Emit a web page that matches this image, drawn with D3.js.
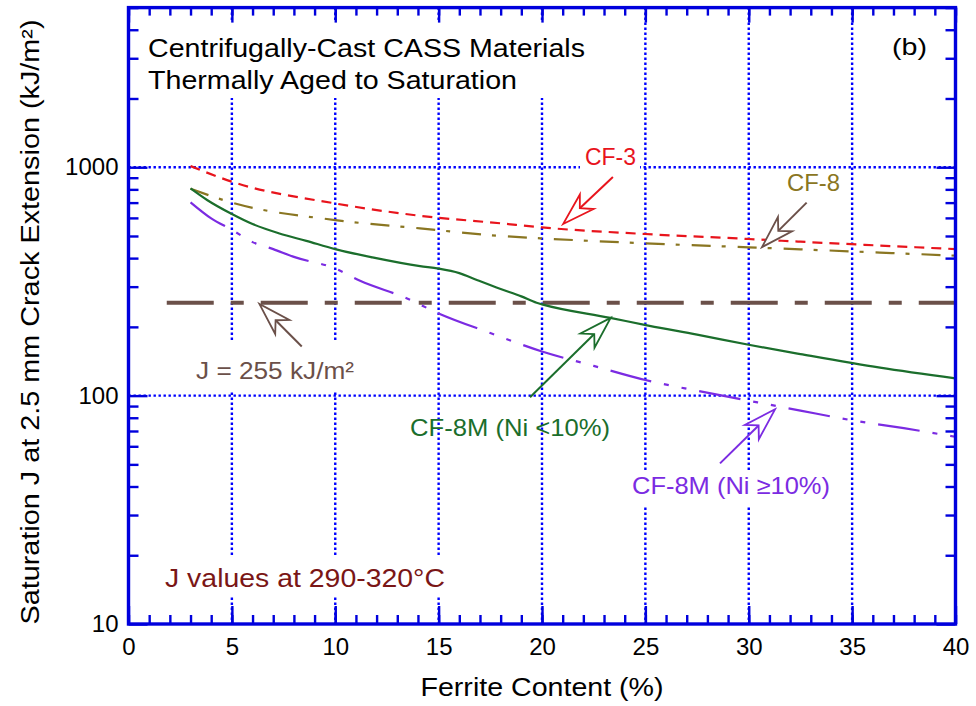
<!DOCTYPE html>
<html><head><meta charset="utf-8">
<script src="https://cdn.jsdelivr.net/npm/d3@7"></script>
<style>
body{margin:0;background:#fff}
svg{display:block}
text{font-family:"Liberation Sans",Arial,Helvetica,sans-serif}
</style>
</head><body><svg id="c" width="976" height="706"></svg>
<script>
// ---------- data ----------
const cf3X = [3, 5, 10, 14.1, 18, 20, 25, 30, 32.5, 36.35, 40];
const cf3Y = [1012, 864, 694, 613, 568, 545, 510, 485, 472, 454, 438];
const cf8X = [3, 5, 10, 14.1, 18, 20, 25, 30, 32.5, 36.35, 40];
const cf8Y = [805, 700, 587, 540, 500, 488, 464, 446, 437, 423, 410];
const cf8mLowX = [3, 3.8, 5, 6, 7.3, 8.6, 10, 11.8, 14.1, 15, 16, 16.85, 18, 19, 19.74, 20, 23.3, 25.2, 27.5, 30, 32.5, 36.35, 40];
const cf8mLowY = [808, 719, 624, 564, 513, 476, 438, 403, 369, 360, 344, 321, 293, 272, 255, 251, 219, 202, 185, 167, 152, 132.5, 119];
const cf8mHighX = [3, 4, 5, 6, 7, 8, 10, 11.2, 13.45, 15, 17.5, 20, 22.5, 25, 27.5, 30, 32.5, 35, 37.5, 40];
const cf8mHighY = [702, 597, 532, 470, 438, 405, 360, 318, 267, 229, 188, 156, 135, 117, 105, 95, 86, 78, 72, 66];
const jLimitX = [1.85, 40];
const jLimitY = [255, 255];
const xTickValues = [0, 5, 10, 15, 20, 25, 30, 35, 40];
const yTickValues = [10, 100, 1000];
const xGridValues = [5, 10, 15, 20, 25, 30, 35];
const yGridValues = [100, 1000];

// ---------- layout ----------
const svg = d3.select("#c");
const x = d3.scaleLinear().domain([0, 40]).range([128.5, 955.5]);
const y = d3.scaleLog().domain([10, 5000]).range([624, 7.6]);
const [X0, X1] = x.range(); const [Y0, Y1] = y.range();
const AXC = "#0000dd", GRIDC = "#0000ff";

function fit(sel, w) {
  sel.attr("textLength", w).attr("lengthAdjust", "spacingAndGlyphs");
  return sel;
}

// grid
const grid = svg.append("g");
grid.selectAll("line.v").data(xGridValues).join("line")
  .attr("x1", d => x(d)).attr("x2", d => x(d)).attr("y1", Y1).attr("y2", Y0)
  .attr("stroke", GRIDC).attr("stroke-width", 2.4).attr("stroke-dasharray", "2.4,2.6");
grid.selectAll("line.h").data(yGridValues).join("line")
  .attr("y1", d => y(d)).attr("y2", d => y(d)).attr("x1", X0).attr("x2", X1)
  .attr("stroke", GRIDC).attr("stroke-width", 2.4).attr("stroke-dasharray", "2.4,2.6");

// white boxes behind labels
const boxes = [[140, 20, 452, 78], [188, 342, 174, 49], [158, 557, 294, 40], [580, 143, 60, 30], [625, 470, 213, 35]];
svg.append("g").selectAll("rect").data(boxes).join("rect")
  .attr("x", d => d[0]).attr("y", d => d[1]).attr("width", d => d[2]).attr("height", d => d[3])
  .attr("fill", "#fff");

// series
const clip = svg.append("clipPath").attr("id", "pc").append("rect")
  .attr("x", X0).attr("y", Y1).attr("width", X1 - X0).attr("height", Y0 - Y1);
const line = d3.line().x(d => x(d[0])).y(d => y(d[1])).curve(d3.curveMonotoneX);
const series = [
  {xs: jLimitX, ys: jLimitY, color: "#6b5049", w: 4.2, dash: "47,17,13,17", curve: d3.curveLinear},
  {xs: cf3X, ys: cf3Y, color: "#e8141c", w: 2.2, dash: "10,7"},
  {xs: cf8X, ys: cf8Y, color: "#8a7622", w: 2.2, dash: "19,11,4,12"},
  {xs: cf8mHighX, ys: cf8mHighY, color: "#7b2be2", w: 2.2, dash: "42,13,5,13,5,13"},
  {xs: cf8mLowX, ys: cf8mLowY, color: "#1b6e2c", w: 2.2, dash: null}
];
const sg = svg.append("g").attr("clip-path", "url(#pc)");
series.forEach(s => {
  const pts = s.xs.map((v, i) => [v, s.ys[i]]);
  const gen = s.curve ? d3.line().x(d => x(d[0])).y(d => y(d[1])).curve(s.curve) : line;
  sg.append("path").attr("d", gen(pts)).attr("fill", "none")
    .attr("stroke", s.color).attr("stroke-width", s.w)
    .attr("stroke-dasharray", s.dash);
});

// arrows (tail -> tip, in data units)
const arrows = [
  {tail: [23.43, 906], tip: [21.02, 564], color: "#e8141c"},
  {tail: [32.8, 700], tip: [30.64, 447], color: "#6b5049"},
  {tail: [8.38, 164], tip: [6.33, 252], color: "#6b5049"},
  {tail: [19.42, 98.3], tip: [23.32, 219], color: "#1b6e2c"},
  {tail: [28.61, 50.5], tip: [31.27, 87.1], color: "#7b2be2"}
];
const ag = svg.append("g");
arrows.forEach(a => {
  const tx = x(a.tip[0]), ty = y(a.tip[1]);
  const sx = x(a.tail[0]), sy = y(a.tail[1]);
  const len = Math.hypot(sx - tx, sy - ty);
  const ux = (sx - tx) / len, uy = (sy - ty) / len;
  const px = -uy, py = ux;
  const L = 32.5, Wd = 10, N = 23;
  const c1 = [tx + ux * L + px * Wd, ty + uy * L + py * Wd];
  const c2 = [tx + ux * L - px * Wd, ty + uy * L - py * Wd];
  const nt = [tx + ux * N, ty + uy * N];
  ag.append("line").attr("x1", sx).attr("y1", sy).attr("x2", nt[0]).attr("y2", nt[1])
    .attr("stroke", a.color).attr("stroke-width", 2);
  ag.append("path").attr("d", `M${tx},${ty}L${c1[0]},${c1[1]}L${nt[0]},${nt[1]}L${c2[0]},${c2[1]}Z`)
    .attr("fill", "#fff").attr("stroke", a.color).attr("stroke-width", 1.8).attr("stroke-linejoin", "miter");
});

// labels
const lg = svg.append("g");
fit(lg.append("text").attr("x", 148).attr("y", 56.5).attr("font-size", 25).text("Centrifugally-Cast CASS Materials"), 437);
fit(lg.append("text").attr("x", 148).attr("y", 88.5).attr("font-size", 25).text("Thermally Aged to Saturation"), 369);
fit(lg.append("text").attr("x", 892).attr("y", 55).attr("font-size", 24).text("(b)"), 35);
fit(lg.append("text").attr("x", 585).attr("y", 165).attr("font-size", 23.5).attr("fill", "#e8141c").text("CF-3"), 51);
fit(lg.append("text").attr("x", 787).attr("y", 191).attr("font-size", 23.5).attr("fill", "#8a7622").text("CF-8"), 53);
fit(lg.append("text").attr("x", 196).attr("y", 379).attr("font-size", 24).attr("fill", "#6b5049").text("J = 255 kJ/m²"), 158);
fit(lg.append("text").attr("x", 410).attr("y", 436).attr("font-size", 24).attr("fill", "#1b6e2c").text("CF-8M (Ni <10%)"), 200);
fit(lg.append("text").attr("x", 632).attr("y", 494).attr("font-size", 24).attr("fill", "#7b2be2").text("CF-8M (Ni ≥10%)"), 198);
fit(lg.append("text").attr("x", 165).attr("y", 587).attr("font-size", 25.5).attr("fill", "#7a1616").text("J values at 290-320°C"), 280);

// axes
const minorX = d3.range(0, 41);
const minorY = [20,30,40,50,60,70,80,90,200,300,400,500,600,700,800,900,2000,3000,4000,5000];
function styleAxis(g) {
  g.select(".domain").remove();
  g.selectAll(".tick line").attr("stroke", AXC).attr("stroke-width", 2.4);
  g.selectAll(".tick text").attr("fill", "#000").attr("font-size", 24)
    .attr("font-family", '"Liberation Sans",Arial,Helvetica,sans-serif');
}
svg.append("g").attr("transform", `translate(0,${Y0})`).call(d3.axisBottom(x).tickValues(minorX).tickSize(-9).tickFormat("")).call(styleAxis);
svg.append("g").attr("transform", `translate(0,${Y0})`).call(d3.axisBottom(x).tickValues(xTickValues).tickSize(-18).tickPadding(14).tickFormat(d3.format("d"))).call(styleAxis);
svg.append("g").attr("transform", `translate(0,${Y1})`).call(d3.axisTop(x).tickValues(minorX).tickSize(-8).tickFormat("")).call(styleAxis);
svg.append("g").attr("transform", `translate(0,${Y1})`).call(d3.axisTop(x).tickValues(xTickValues).tickSize(-15).tickFormat("")).call(styleAxis);
svg.append("g").attr("transform", `translate(${X0},0)`).call(d3.axisLeft(y).tickValues(minorY).tickSize(-10).tickFormat("")).call(styleAxis);
svg.append("g").attr("transform", `translate(${X0},0)`).call(d3.axisLeft(y).tickValues(yTickValues).tickSize(-19).tickPadding(10).tickFormat(d3.format("d"))).call(styleAxis);
svg.append("g").attr("transform", `translate(${X1},0)`).call(d3.axisRight(y).tickValues(minorY).tickSize(-10).tickFormat("")).call(styleAxis);
svg.append("g").attr("transform", `translate(${X1},0)`).call(d3.axisRight(y).tickValues(yTickValues).tickSize(-19).tickFormat("")).call(styleAxis);

svg.append("rect").attr("x", X0).attr("y", Y1).attr("width", X1 - X0).attr("height", Y0 - Y1)
  .attr("fill", "none").attr("stroke", AXC).attr("stroke-width", 3.4);

// axis titles
fit(svg.append("text").attr("x", (X0 + X1) / 2).attr("y", 696).attr("text-anchor", "middle")
  .attr("font-size", 25).text("Ferrite Content (%)"), 243);
fit(svg.append("text").attr("transform", "translate(39,322) rotate(-90)").attr("text-anchor", "middle")
  .attr("font-size", 25).text("Saturation J at 2.5 mm Crack Extension (kJ/m²)"), 605);
</script></body></html>
